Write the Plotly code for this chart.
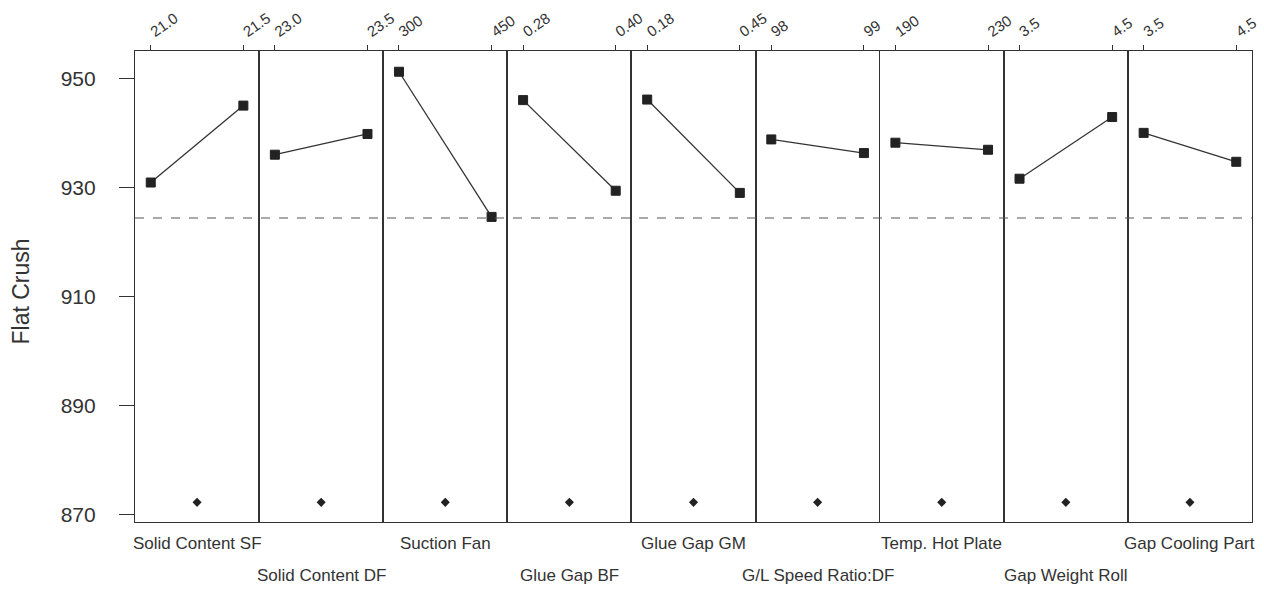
import plotly.graph_objects as go
from plotly.subplots import make_subplots

factors = ["Solid Content SF", "Solid Content DF", "Suction Fan", "Glue Gap BF",
           "Glue Gap GM", "G/L Speed Ratio:DF", "Temp. Hot Plate", "Gap Weight Roll",
           "Gap Cooling Part"]
low_labels = ["21.0", "23.0", "300", "0.28", "0.18", "98", "190", "3.5", "3.5"]
high_labels = ["21.5", "23.5", "450", "0.40", "0.45", "99", "230", "4.5", "4.5"]
low_means = [930.9, 936.0, 951.2, 946.0, 946.1, 938.8, 938.2, 931.6, 940.0]
high_means = [945.0, 939.8, 924.6, 929.4, 929.0, 936.3, 936.9, 942.9, 934.7]
grand_mean = 924.4
mid_marker = [872.3] * 9

FONT = "Liberation Sans, Arial, sans-serif"
TXT = "#333333"

n = len(factors)
fig = make_subplots(rows=1, cols=n, shared_yaxes=True, horizontal_spacing=0)

for i in range(n):
    c = i + 1
    fig.add_trace(go.Scatter(
        x=[0, 1], y=[low_means[i], high_means[i]], mode="lines+markers",
        line=dict(color="#333333", width=1.3),
        marker=dict(symbol="square", size=9, color="#222222",
                    line=dict(color="#222222", width=1)),
        showlegend=False, hoverinfo="skip"), row=1, col=c)
    fig.add_trace(go.Scatter(
        x=[0.5], y=[mid_marker[i]], mode="markers",
        marker=dict(symbol="diamond", size=7, color="#222222"),
        showlegend=False, hoverinfo="skip"), row=1, col=c)
    fig.update_xaxes(
        range=[-0.17, 1.17], tickvals=[0, 1], ticktext=[low_labels[i], high_labels[i]],
        side="top", tickangle=-35, ticks="outside", ticklen=5, tickcolor="#333",
        tickfont=dict(family=FONT, size=15, color=TXT), automargin=False,
        showline=True, mirror=True, linecolor="#333", linewidth=1.2,
        showgrid=False, zeroline=False, fixedrange=True, row=1, col=c)
    fig.update_yaxes(
        range=[868.7, 955.0], tickvals=[870, 890, 910, 930, 950], automargin=False,
        showline=True, mirror=True, linecolor="#333", linewidth=1.2,
        showgrid=False, zeroline=False, row=1, col=c)
    xd = "x domain" if i == 0 else f"x{c} domain"
    fig.add_annotation(
        text=factors[i], xref=xd, x=0.5, xanchor="center",
        yref="paper", y=0, yanchor="top", yshift=-10 if i % 2 == 0 else -42,
        showarrow=False, font=dict(family=FONT, size=17, color=TXT))

fig.update_yaxes(ticks="outside", ticklen=15, tickcolor="#333",
                 tickfont=dict(family=FONT, size=21, color=TXT),
                 ticklabelstandoff=19, row=1, col=1)

fig.add_shape(type="line", xref="paper", x0=0, x1=1, yref="y", y0=grand_mean,
              y1=grand_mean, line=dict(color="#555555", width=1, dash="dash"))

fig.add_annotation(text="Flat Crush", xref="paper", x=0, xanchor="center",
                   xshift=-115, yref="paper", y=0.5, yshift=-5, textangle=-90,
                   showarrow=False, font=dict(family=FONT, size=23, color=TXT))

fig.update_layout(
    width=1264, height=595, margin=dict(l=135, r=12, t=51, b=73),
    plot_bgcolor="white", paper_bgcolor="white",
    font=dict(family=FONT, color=TXT))

fig.write_html("out.html")
